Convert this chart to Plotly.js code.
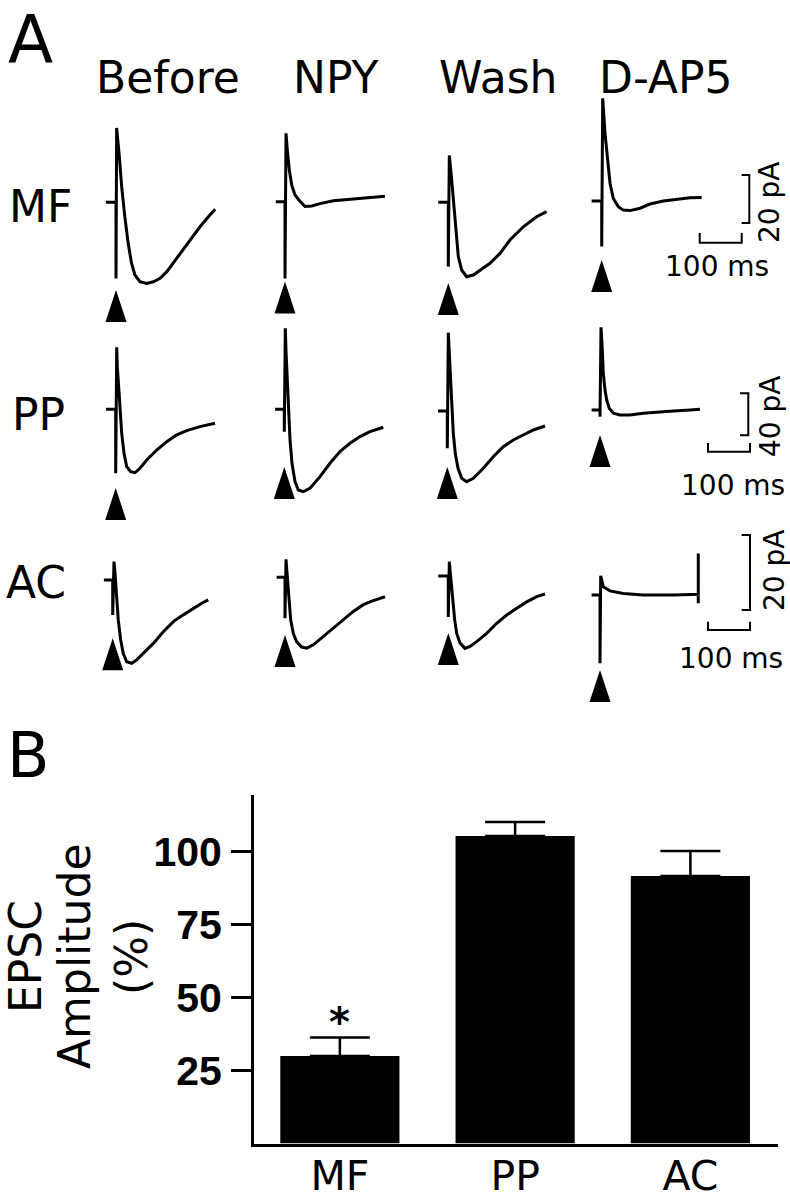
<!DOCTYPE html>
<html><head><meta charset="utf-8">
<script src="https://cdn.plot.ly/plotly-3.0.1.min.js"></script>
<style>html,body{margin:0;padding:0;background:#fff}#chart{width:790px;height:1199px}</style>
</head><body><div id="chart"></div>
<script>
// ================= DATA =================
const conditions = ['Before', 'NPY', 'Wash', 'D-AP5'];
const pathways = ['MF', 'PP', 'AC'];

// EPSC traces: time (ms, stimulus at 0) and current (pA, baseline 0)
const mfBeforeT  = [-24, 0, 0, 1.5, 8, 13.5, 21, 29, 37, 45, 57, 73, 89, 105, 121, 136, 156, 176, 200, 220, 236];
const mfBeforePA = [0, 0, -31.7, 31, 19.0, 6.5, -6.0, -17.1, -25.4, -30.3, -33.1, -33.8, -33.1, -31.7, -28.9, -25.4, -20.6, -15.7, -10.2, -6.0, -2.9];
const mfNpyT     = [-22, 0, 0, 2.4, 5.5, 10.3, 15.9, 23.8, 35.7, 47.6, 63.5, 83.3, 115, 155, 194, 238];
const mfNpyPA    = [0, 0, -32, 28.5, 21.5, 13.2, 7.0, 2.8, 0.2, -2.0, -1.8, -0.8, 0.4, 1.0, 1.5, 2.3];
const mfWashT    = [-24, 0, 0, 2.4, 8.1, 13.5, 18.3, 23.8, 31.8, 43.7, 59.5, 75.4, 99.2, 123, 146.8, 178.6, 210.3, 234];
const mfWashPA   = [0, 0, -26.8, 19.5, 9.3, -1.8, -12.8, -22.6, -28.2, -31.0, -30.3, -28.2, -25.4, -21.3, -15.7, -10.2, -6.0, -3.9];
const mfDap5T    = [-24, 0, 0, 2.4, 7.9, 13.3, 19.8, 27.6, 39.5, 51.4, 67.4, 91.2, 115, 146.7, 178.6, 210.2, 238];
const mfDap5PA   = [0, 0, -19.0, 42.8, 28.2, 17.1, 7.4, 1.1, -2.4, -3.8, -4.0, -3.0, -1.25, 0, 0.8, 1.4, 1.5];

const ppBeforeT  = [-23, 0, 0, 2.4, 3.8, 7.1, 10.2, 14.3, 19.8, 26.2, 35.7, 46, 57.9, 73.8, 97.6, 121.4, 145.2, 169, 200.7, 236.4];
const ppBeforePA = [0, 0, -61.0, 59.0, 40.6, 21.5, -0.7, -22.9, -41.9, -54.6, -59.4, -60.4, -56.2, -48.3, -38.8, -30.8, -24.4, -20.3, -16.5, -13.3];
const ppNpyT     = [-22, 0, 0, 2.4, 4, 7.1, 10.5, 13.6, 18.3, 25.5, 33.3, 45.2, 61.2, 85, 108.8, 132.6, 156.4, 180.2, 204, 235.7];
const ppNpyPA    = [0, 0, -21.3, 77.1, 56.2, 24.4, -3.8, -29.2, -51.4, -68.9, -76.8, -78.4, -75.2, -64.1, -51.4, -40.3, -32.4, -26.0, -21.3, -17.1];
const ppWashT    = [-22, 0, 0, 2.4, 4.8, 8.1, 11.2, 14.3, 19, 25.5, 34.3, 46.2, 61.9, 85.7, 109.5, 133.3, 157.1, 181, 204.8, 232.6];
const ppWashPA   = [0, 0, -35.5, 74.6, 55.0, 26.4, 1.0, -21.3, -40.3, -54.6, -64.1, -67.3, -64.1, -54.6, -43.5, -34.0, -27.6, -22.9, -18.1, -14.3];
const ppDap5T    = [-20, 0, 0, 2.4, 5.5, 7.9, 11.9, 16, 22.1, 31.7, 47.6, 71.4, 103.1, 135, 174.5, 214.3, 238];
const ppDap5PA   = [0, 0, -6.4, 78.8, 57.1, 34.9, 19.0, 9.5, 1.6, -3.1, -4.8, -4.8, -3.1, -1.9, -1.0, 0, 0.7];

const acBeforeT  = [-21, 0, 0, 3.1, 5.5, 9.5, 13.3, 19, 25.2, 33.3, 45.2, 57.1, 72.9, 96.7, 120.5, 144.3, 168.1, 191.9, 211.9, 227.6];
const acBeforePA = [0, 0, -9.3, 4.9, 1.8, -4.4, -10.7, -16.0, -19.6, -21.8, -22.2, -21.3, -19.6, -16.9, -13.8, -11.1, -9.3, -7.6, -6.2, -5.3];
const acNpyT     = [-20, 0, 0, 2.4, 5.5, 9.5, 13.6, 19.8, 27.9, 39.8, 51.7, 67.4, 91.2, 115, 138.8, 162.6, 186.4, 210.2, 238];
const acNpyPA    = [0, 0, -10.9, 4.8, 0.2, -6.0, -11.4, -15.0, -17.2, -18.6, -18.9, -18.0, -15.8, -13.5, -11.3, -9.1, -7.3, -6.2, -5.2];
const acWashT    = [-24, 0, 0, 2.4, 6.4, 10.5, 15.2, 20, 27.9, 39.8, 51.7, 67.6, 91.4, 115.2, 139, 162.9, 186.7, 210.5, 230.2];
const acWashPA   = [0, 0, -10.9, 3.8, -1.1, -6.4, -11.7, -15.3, -17.9, -19.3, -18.8, -17.5, -15.3, -12.6, -10.4, -8.6, -6.9, -5.5, -4.8];
const acDap5T    = [-20, 0, 0, 1.7, 7.9, 23.8, 55.5, 103, 174.5, 234, 234, 234];
const acDap5PA   = [0, 0, -18.2, 5.1, 2.2, 1.1, 0.4, 0, 0, 0.2, 11.1, -2.2];

// stimulus marker level (pA) under each trace
const stimMarkerPA = [[-36.5, -33.2, -33.6, -24.6], [-75, -55, -53.3, -23.8], [-15.5, -15.4, -15.2, -20]];
// scale bars
const scaleMs = 100;
const scalePA = [20, 40, 20];

// Panel B
const barCategories = ['MF', 'PP', 'AC'];
const barAmplitude = [30, 105.4, 91.7];
const barSEM = [6.3, 4.8, 8.6];
const yTickVals = [25, 50, 75, 100];

// ================= LAYOUT HELPERS =================
const W = 790, H = 1199;
const FONT = 'DejaVu Sans';
const px = v => v / W;
const py = v => 1 - v / H;

const traceT = [[mfBeforeT, mfNpyT, mfWashT, mfDap5T], [ppBeforeT, ppNpyT, ppWashT, ppDap5T], [acBeforeT, acNpyT, acWashT, acDap5T]];
const tracePA = [[mfBeforePA, mfNpyPA, mfWashPA, mfDap5PA], [ppBeforePA, ppNpyPA, ppWashPA, ppDap5PA], [acBeforePA, acNpyPA, acWashPA, acDap5PA]];

const colBox = [[92, 262], [262, 425], [425, 578], [578, 790]];
const rowBox = [[88, 326], [326, 528], [528, 712]];
const pxPerMs = 0.42;
const pxPerPA = [2.4, 1.05, 3.75];
const stimX = [[116, 285, 448.3, 601.7], [115.7, 284.3, 447.3, 600], [112.7, 285, 448.3, 600]];
const baseY = [[202.3, 201.7, 202.3, 201], [409.3, 409.3, 411, 410], [580, 577.3, 576, 595]];

const data = [];
const layout = {
  width: W, height: H,
  margin: {l: 0, r: 0, t: 0, b: 0},
  paper_bgcolor: 'white', plot_bgcolor: 'rgba(0,0,0,0)',
  showlegend: false,
  font: {family: FONT, color: 'black'},
  shapes: [], annotations: []
};
const axId = n => (n === 1 ? '' : String(n));

function tOf(r, c, xpx) { return (xpx - stimX[r][c]) / pxPerMs; }
function paOf(r, c, ypx) { return (baseY[r][c] - ypx) / pxPerPA[r]; }

for (let r = 0; r < 3; r++) {
  for (let c = 0; c < 4; c++) {
    const n = r * 4 + c + 1;
    const [xs, xe] = colBox[c];
    const [yt, yb] = rowBox[r];
    layout['xaxis' + axId(n)] = {
      domain: [px(xs), px(xe)], range: [tOf(r, c, xs), tOf(r, c, xe)],
      visible: false, anchor: 'y' + axId(n), fixedrange: true
    };
    layout['yaxis' + axId(n)] = {
      domain: [py(yb), py(yt)], range: [paOf(r, c, yb), paOf(r, c, yt)],
      visible: false, anchor: 'x' + axId(n), fixedrange: true
    };
    data.push({
      type: 'scatter', mode: 'lines', x: traceT[r][c], y: tracePA[r][c],
      xaxis: 'x' + axId(n), yaxis: 'y' + axId(n),
      line: {color: 'black', width: 3}, hoverinfo: 'skip'
    });
    // stimulus arrowhead
    layout.shapes.push({
      type: 'path', xref: 'x' + axId(n), yref: 'y' + axId(n),
      xsizemode: 'pixel', ysizemode: 'pixel', xanchor: 0, yanchor: stimMarkerPA[r][c],
      path: 'M0,0 L-10.5,-32 L10.5,-32 Z', fillcolor: 'black', line: {width: 0}
    });
  }
}

// scale bars (pixel anchors for placement, lengths from scale values)
const sbV = [{x: 749.3, top: 175, tick: 7.6}, {x: 748.3, top: 393.3, tick: 8.3}, {x: 750, top: 535, tick: 8.3}];
const sbH = [{right: 741.7, y: 242.7, tick: 9.7}, {right: 750, y: 451.7, tick: 8.7}, {right: 750, y: 630, tick: 8.3}];
const sbVLabel = [[769, 203], [771, 417], [774, 571]];
const sbHLabel = [[717, 267], [733, 485], [731, 658]];
for (let r = 0; r < 3; r++) {
  const c = 3, n = r * 4 + 4;
  const vx = tOf(r, c, sbV[r].x), vTop = paOf(r, c, sbV[r].top), vBot = vTop - scalePA[r];
  const vTick = sbV[r].tick / pxPerMs;
  data.push({
    type: 'scatter', mode: 'lines', xaxis: 'x' + axId(n), yaxis: 'y' + axId(n),
    x: [vx - vTick, vx, vx, vx - vTick], y: [vTop, vTop, vBot, vBot],
    line: {color: 'black', width: 2}, hoverinfo: 'skip'
  });
  const hRight = tOf(r, c, sbH[r].right), hLeft = hRight - scaleMs, hy = paOf(r, c, sbH[r].y);
  const hTick = sbH[r].tick / pxPerPA[r];
  data.push({
    type: 'scatter', mode: 'lines', xaxis: 'x' + axId(n), yaxis: 'y' + axId(n),
    x: [hLeft, hLeft, hRight, hRight], y: [hy + hTick, hy, hy, hy + hTick],
    line: {color: 'black', width: 2}, hoverinfo: 'skip'
  });
  layout.annotations.push({
    xref: 'paper', yref: 'paper', x: px(sbVLabel[r][0]), y: py(sbVLabel[r][1]),
    text: scalePA[r] + ' pA', textangle: -90, showarrow: false,
    xanchor: 'center', yanchor: 'middle', font: {family: FONT, size: 28, color: 'black'}
  });
  layout.annotations.push({
    xref: 'paper', yref: 'paper', x: px(sbHLabel[r][0]), y: py(sbHLabel[r][1]),
    text: scaleMs + ' ms', showarrow: false,
    xanchor: 'center', yanchor: 'middle', font: {family: FONT, size: 28, color: 'black'}
  });
}

// headers and row labels
const headerX = [168, 335, 498, 665];
conditions.forEach((t, i) => layout.annotations.push({
  xref: 'paper', yref: 'paper', x: px(headerX[i]), y: py(77.5), text: t, showarrow: false,
  xanchor: 'center', yanchor: 'middle', font: {family: FONT, size: 44, color: 'black'}
}));
const rowLabelPos = [[40, 206], [38, 414], [36, 582]];
pathways.forEach((t, i) => layout.annotations.push({
  xref: 'paper', yref: 'paper', x: px(rowLabelPos[i][0]), y: py(rowLabelPos[i][1]), text: t, showarrow: false,
  xanchor: 'center', yanchor: 'middle', font: {family: FONT, size: 44, color: 'black'}
}));
layout.annotations.push({xref: 'paper', yref: 'paper', x: px(30), y: 1, text: 'A', showarrow: false,
  xanchor: 'center', yanchor: 'top', borderpad: 0, font: {family: FONT, size: 66, color: 'black'}});
layout.annotations.push({xref: 'paper', yref: 'paper', x: px(28.5), y: py(755.5), text: 'B', showarrow: false,
  xanchor: 'center', yanchor: 'middle', font: {family: FONT, size: 62, color: 'black'}});

// ================= PANEL B =================
const bTop = 795, bBot = 1143.5, pxPerPct = 2.917;
layout.xaxis13 = {
  domain: [px(254), px(778)], type: 'category', range: [-0.49, 2.5], anchor: 'y13',
  showline: true, linewidth: 3, linecolor: 'black', ticks: '', showgrid: false, zeroline: false,
  tickfont: {family: FONT, size: 41, color: 'black'}, ticklabelstandoff: -6, fixedrange: true
};
layout.yaxis13 = {
  domain: [py(bBot), py(bTop)], range: [0, (bBot - bTop) / pxPerPct], anchor: 'x13',
  showline: true, linewidth: 3, linecolor: 'black', ticks: 'outside', ticklen: 20, tickwidth: 3,
  tickcolor: 'black', tickvals: yTickVals, ticktext: yTickVals.map(String),
  showgrid: false, zeroline: false, ticklabelstandoff: 1,
  tickfont: {family: 'Liberation Sans', size: 41, weight: 'bold', color: 'black'}, fixedrange: true
};
data.push({
  type: 'bar', x: barCategories, y: barAmplitude, xaxis: 'x13', yaxis: 'y13', width: 0.68,
  marker: {color: 'black', line: {width: 0}},
  error_y: {type: 'data', array: barSEM, arrayminus: barSEM.map(() => 0), symmetric: false,
            color: 'black', thickness: 2.5, width: 30},
  hoverinfo: 'skip'
});
layout.annotations.push({
  xref: 'x13', yref: 'y13', x: barCategories[0], y: barAmplitude[0] + barSEM[0], text: '*',
  showarrow: false, xanchor: 'center', yanchor: 'middle', yshift: 16,
  font: {family: FONT, size: 40, weight: 'bold', color: 'black'}
});
const yTitleLines = [['EPSC', 25], ['Amplitude', 74], ['(%)', 131]];
yTitleLines.forEach(([t, x]) => layout.annotations.push({
  xref: 'paper', yref: 'paper', x: px(x), y: py(957), text: t, textangle: -90, showarrow: false,
  xanchor: 'center', yanchor: 'middle', font: {family: FONT, size: 44, color: 'black'}
}));

Plotly.newPlot('chart', data, layout, {displayModeBar: false, staticPlot: true});
</script>
</body></html>
